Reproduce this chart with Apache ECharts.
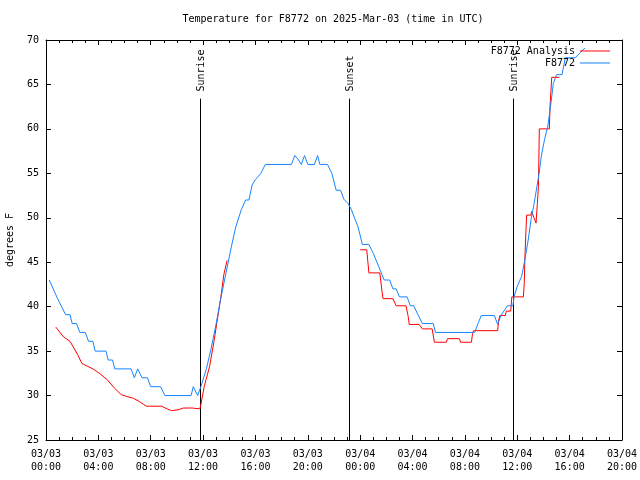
<!DOCTYPE html>
<html>
<head>
<meta charset="utf-8">
<script src="https://cdn.jsdelivr.net/npm/echarts@6/dist/echarts.min.js"></script>
<style>html,body{margin:0;padding:0;background:#fff;}#c{width:640px;height:480px;}</style>
</head>
<body>
<div id="c"></div>
<script>
const FONT = '"DejaVu Sans Mono", "Liberation Mono", monospace';
const titleText = 'Temperature for F8772 on 2025-Mar-03 (time in UTC)';
const yName = 'degrees F';
const analysisName = 'F8772 Analysis';
const obsName = 'F8772';

const analysisTimes = ["03/03 00:45","03/03 01:20","03/03 01:50","03/03 02:25","03/03 02:45","03/03 03:10","03/03 03:35","03/03 04:05","03/03 04:40","03/03 05:15","03/03 05:45","03/03 06:10","03/03 06:40","03/03 07:10","03/03 07:40","03/03 08:50","03/03 09:15","03/03 09:35","03/03 10:05","03/03 10:30","03/03 11:10","03/03 11:15","03/03 11:45","03/03 11:50","03/03 12:05","03/03 12:30","03/03 12:50","03/03 13:05","03/03 13:20","03/03 13:35","03/03 13:50","03/03 18:00","03/04 00:00","03/04 00:30","03/04 00:35","03/04 00:40","03/04 01:30","03/04 01:40","03/04 01:45","03/04 02:30","03/04 02:45","03/04 03:30","03/04 03:40","03/04 03:45","03/04 04:30","03/04 04:45","03/04 05:30","03/04 05:40","03/04 06:35","03/04 06:40","03/04 07:35","03/04 07:40","03/04 08:30","03/04 08:35","03/04 08:40","03/04 10:30","03/04 10:35","03/04 10:40","03/04 11:05","03/04 11:10","03/04 11:30","03/04 11:35","03/04 12:28","03/04 12:32","03/04 12:35","03/04 12:40","03/04 12:43","03/04 13:02","03/04 13:06","03/04 13:14","03/04 13:26","03/04 13:32","03/04 13:37","03/04 13:40","03/04 13:41","03/04 14:27","03/04 14:30","03/04 14:38","03/04 15:13"];
const analysisValues = [37.7,36.6,36.1,34.6,33.6,33.3,33.0,32.5,31.8,30.8,30.1,29.9,29.7,29.3,28.8,28.8,28.5,28.3,28.4,28.6,28.6,28.5,28.5,29.0,31.0,33.3,36.1,38.5,40.8,43.6,45.2,null,46.4,46.4,45.1,43.8,43.8,41.7,40.9,40.9,40.1,40.1,38.9,38.0,38.0,37.5,37.5,36.0,36.0,36.4,36.4,36.0,36.0,37.0,37.3,37.3,38.5,39.0,39.0,39.5,39.5,41.1,41.1,42.6,45.6,48.7,50.3,50.3,50.7,50.9,49.4,51.6,53.5,58.2,60.0,60.0,62.5,65.8,65.8];

const obsTimes = ["03/03 00:15","03/03 00:55","03/03 01:30","03/03 01:50","03/03 02:00","03/03 02:20","03/03 02:35","03/03 03:00","03/03 03:15","03/03 03:35","03/03 03:45","03/03 04:35","03/03 04:45","03/03 05:05","03/03 05:15","03/03 06:30","03/03 06:45","03/03 07:00","03/03 07:20","03/03 07:45","03/03 08:00","03/03 08:45","03/03 09:05","03/03 11:05","03/03 11:15","03/03 11:35","03/03 11:50","03/03 12:15","03/03 12:35","03/03 13:00","03/03 13:20","03/03 13:45","03/03 14:10","03/03 14:30","03/03 14:55","03/03 15:15","03/03 15:30","03/03 15:45","03/03 16:00","03/03 16:25","03/03 16:45","03/03 18:45","03/03 19:00","03/03 19:15","03/03 19:30","03/03 19:45","03/03 20:00","03/03 20:30","03/03 20:45","03/03 20:55","03/03 21:30","03/03 21:50","03/03 22:10","03/03 22:30","03/03 22:45","03/03 23:05","03/03 23:20","03/03 23:35","03/03 23:50","03/04 00:10","03/04 00:40","03/04 01:00","03/04 01:25","03/04 01:50","03/04 02:15","03/04 02:30","03/04 02:45","03/04 03:00","03/04 03:35","03/04 03:50","03/04 04:05","03/04 04:25","03/04 04:45","03/04 05:35","03/04 05:45","03/04 08:45","03/04 09:00","03/04 09:15","03/04 10:15","03/04 10:30","03/04 10:45","03/04 11:15","03/04 11:40","03/04 11:45","03/04 12:00","03/04 12:20","03/04 12:35","03/04 12:50","03/04 13:05","03/04 13:15","03/04 13:30","03/04 13:40","03/04 13:50","03/04 14:05","03/04 14:20","03/04 14:35","03/04 14:45","03/04 15:00","03/04 15:25","03/04 15:40","03/04 16:25","03/04 16:50","03/04 17:10"];
const obsValues = [43.0,40.8,39.1,39.1,38.1,38.1,37.1,37.1,36.1,36.1,35.0,35.0,34.0,34.0,33.0,33.0,32.0,33.0,32.0,32.0,31.0,31.0,30.0,30.0,31.0,30.0,31.0,33.0,35.1,38.1,40.8,43.8,46.8,49.0,50.9,52.0,52.0,53.7,54.3,55.0,56.0,56.0,57.0,56.6,56.0,57.0,56.0,56.0,57.0,56.0,56.0,55.0,53.1,53.1,52.1,51.6,50.9,49.9,49.0,47.0,47.0,46.0,44.5,43.0,43.0,42.0,42.0,41.1,41.1,40.1,40.1,39.1,38.1,38.1,37.1,37.1,38.1,39.0,39.0,38.0,39.0,40.1,40.1,41.1,42.3,43.4,45.3,47.5,50.1,51.3,53.5,55.0,56.9,58.8,60.3,63.0,65.1,66.1,66.1,68.0,68.0,68.6,69.1];

const eventTimes = ["03/03 11:48","03/03 23:08","03/04 11:41"];
const eventLabels = ["Sunrise","Sunset","Sunrise"];
const eventLineTop = 63.4;
const eventLabelBase = 64.2;

const xMinH = 0, xMaxH = 44, xStepH = 4;
const yMin = 25, yMax = 70, yStep = 5;

function hrs(s) {
  const day = +s.slice(3,5), hh = +s.slice(6,8), mm = +s.slice(9,11);
  return (day - 3) * 24 + hh + mm / 60;
}
function pad(n){ return (n < 10 ? '0' : '') + n; }
function fmtX(v) {
  const day = 3 + Math.floor(v / 24);
  const hh = Math.round(v % 24);
  return '03/' + pad(day) + '\n' + pad(hh) + ':00';
}

const analysisData = analysisTimes.map((t,i)=>[hrs(t), analysisValues[i]]);
const obsData = obsTimes.map((t,i)=>[hrs(t), obsValues[i]]);
const eventData = eventTimes.map((t,i)=>[hrs(t), i]);

const axisLineStyle = {color:'#000', width:1};
const baseX = {
  type:'value', min:xMinH, max:xMaxH, interval:xStepH,
  axisLine:{show:true, onZero:false, lineStyle:axisLineStyle},
  axisTick:{show:true, inside:true, length:5, lineStyle:axisLineStyle},
  minorTick:{show:true, splitNumber:4, length:3, lineStyle:axisLineStyle},
  splitLine:{show:false}
};
const baseY = {
  type:'value', min:yMin, max:yMax, interval:yStep,
  axisLine:{show:true, onZero:false, lineStyle:axisLineStyle},
  axisTick:{show:true, inside:true, length:5, lineStyle:axisLineStyle},
  splitLine:{show:false}
};
const legendIcon = 'path://M0,0H30V1H0Z';

const chart = echarts.init(document.getElementById('c'), null, {renderer:'canvas'});
chart.setOption({
  animation:false,
  backgroundColor:'#fff',
  title:{
    text:titleText, left:333, top:14, textAlign:'center', padding:0,
    textStyle:{fontFamily:FONT, fontSize:10, fontWeight:'normal', color:'#000'}
  },
  legend:{
    orient:'vertical', align:'right', right:30, top:46, padding:0,
    itemWidth:30, itemHeight:12, itemGap:2, symbolKeepAspect:true,
    data:[{name:analysisName, icon:legendIcon}, {name:obsName, icon:legendIcon}],
    textStyle:{fontFamily:FONT, fontSize:10, color:'#000'}
  },
  grid:{left:46, right:18, top:40, bottom:40, show:false, containLabel:false, outerBoundsMode:'none'},
  xAxis:[
    Object.assign({}, baseX, {position:'bottom',
      axisLabel:{show:true, formatter:fmtX, margin:8, lineHeight:13,
        fontFamily:FONT, fontSize:10, color:'#000'}}),
    Object.assign({}, baseX, {position:'top', axisLabel:{show:false}})
  ],
  yAxis:[
    Object.assign({}, baseY, {position:'left', name:yName, nameLocation:'middle', nameGap:31, nameRotate:90,
      nameTextStyle:{fontFamily:FONT, fontSize:10, color:'#000'},
      axisLabel:{show:true, margin:7, fontFamily:FONT, fontSize:10, color:'#000'}}),
    Object.assign({}, baseY, {position:'right', axisLabel:{show:false}})
  ],
  series:[
    {
      name:'events', type:'custom', xAxisIndex:0, yAxisIndex:0, silent:true,
      data:eventData, z:1,
      renderItem:function(params, api){
        const x = api.value(0);
        const idx = api.value(1);
        const p0 = api.coord([x, yMin]);
        const p1 = api.coord([x, eventLineTop]);
        const p2 = api.coord([x, eventLabelBase]);
        return {type:'group', children:[
          {type:'line', shape:{x1:Math.round(p0[0])+0.5, y1:p0[1], x2:Math.round(p1[0])+0.5, y2:p1[1]},
            style:{stroke:'#000', lineWidth:1}},
          {type:'text', x:Math.round(p2[0])+1, y:p2[1], rotation:Math.PI/2,
            style:{text:eventLabels[idx], align:'left', verticalAlign:'middle',
              font:'10px ' + FONT, fill:'#000'}}
        ]};
      }
    },
    {
      name:analysisName, type:'line', data:analysisData, showSymbol:false, symbol:'none',
      connectNulls:false, lineStyle:{color:'#ff0000', width:1}, itemStyle:{color:'#ff0000'}, z:2
    },
    {
      name:obsName, type:'line', data:obsData, showSymbol:false, symbol:'none',
      lineStyle:{color:'#1585ff', width:1}, itemStyle:{color:'#1585ff'}, z:3
    }
  ]
});
</script>
</body>
</html>
